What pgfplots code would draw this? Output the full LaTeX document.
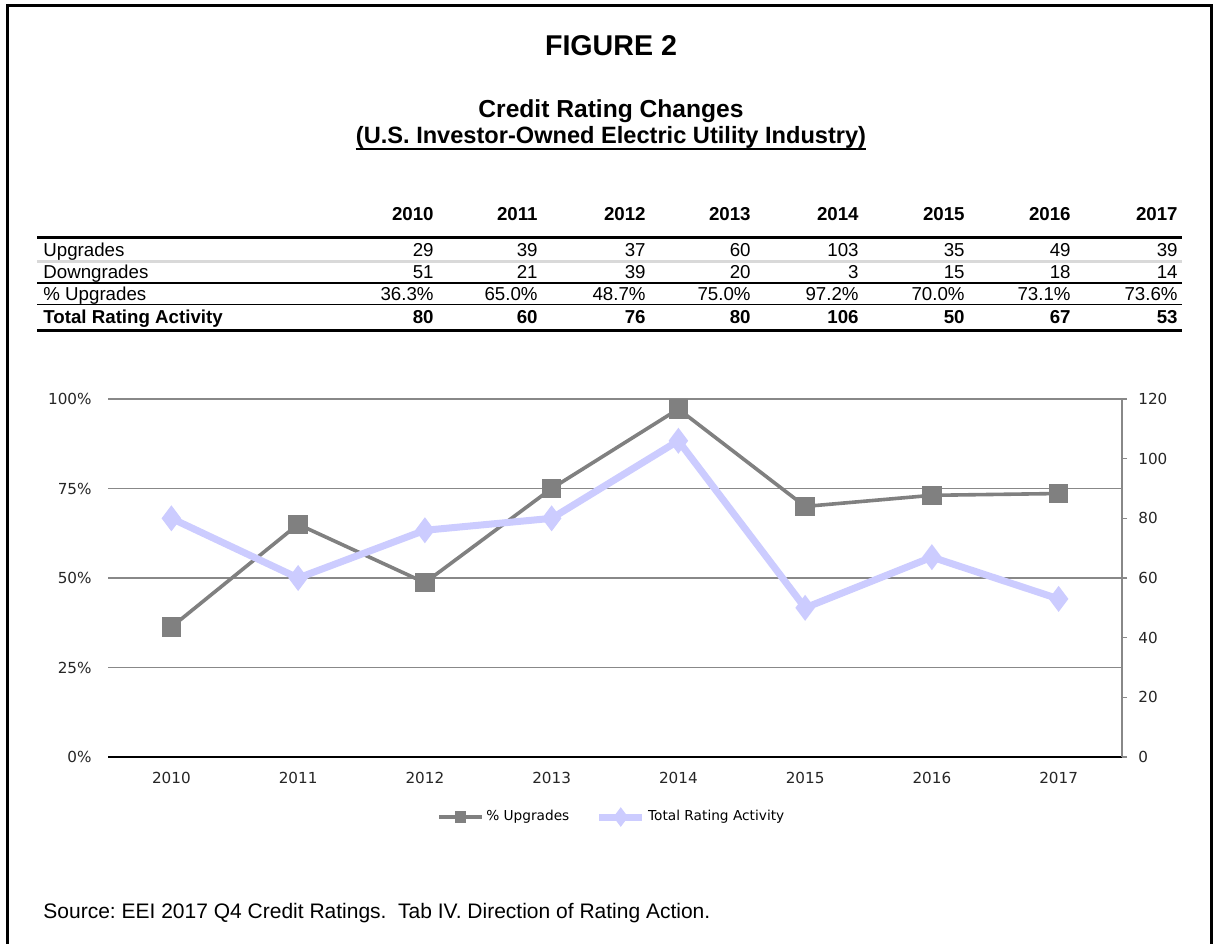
\documentclass[border=0pt]{standalone}
\usepackage{pgfplots}
\pgfplotsset{compat=1.18}
\usepackage{fontspec}
\setmainfont{Liberation Sans}
\newfontfamily\chartfont{DejaVu Sans}

\definecolor{upgr}{RGB}{128,128,128}
\definecolor{total}{RGB}{204,204,255}
\definecolor{gridgray}{RGB}{136,136,136}
\definecolor{rulegray}{RGB}{217,217,217}

\begin{document}
\frenchspacing
\begin{tikzpicture}[x=0.5pt,y=-0.5pt]
\useasboundingbox (0,0) rectangle (1213,943);
\fill[white] (0,0) rectangle (1213,943);
% frame (bottom edge falls outside the page)
\draw[line width=1.5pt] (7.5,960) -- (7.5,5.3) -- (1211.5,5.3) -- (1211.5,960);

% titles
\node[font=\fontsize{14.3}{16}\selectfont\bfseries, anchor=base, inner sep=0pt] at (611,55) {FIGURE 2};
\node[font=\fontsize{12.3}{15}\selectfont\bfseries, anchor=base, inner sep=0pt] at (611,117) {Credit Rating Changes};
\node[font=\fontsize{11.8}{15}\selectfont\bfseries, anchor=base, inner sep=0pt] (sub) at (611,143) {(U.S. Investor-Owned Electric Utility Industry)};
\draw[line width=1pt] ([yshift=-3pt]sub.base west) -- ([yshift=-3pt]sub.base east);

% table
\begin{scope}[every node/.style={inner sep=0pt, font=\fontsize{9.35}{11}\selectfont}]
\draw[line width=1.5pt] (37,237.5) -- (1182,237.5);
\draw[line width=1.5pt, rulegray] (37,261.5) -- (1182,261.5);
\draw[line width=1.25pt] (37,283) -- (1182,283);
\draw[line width=0.75pt] (37,304.5) -- (1182,304.5);
\draw[line width=1.5pt] (37,330.5) -- (1182,330.5);
\node[anchor=base west] at (43,256) {Upgrades};
\node[anchor=base west] at (43,278) {Downgrades};
\node[anchor=base west] at (43,300) {\% Upgrades};
\node[anchor=base west, font=\fontsize{9.35}{11}\selectfont\bfseries] at (43,323) {Total Rating Activity};
\foreach \x/\yr/\u/\d/\p/\t in {434/2010/29/51/36.3/80, 538/2011/39/21/65.0/60,
  646/2012/37/39/48.7/76, 751/2013/60/20/75.0/80, 859/2014/103/3/97.2/106,
  965/2015/35/15/70.0/50, 1071/2016/49/18/73.1/67, 1178/2017/39/14/73.6/53}{
  \node[anchor=base east, font=\fontsize{9.35}{11}\selectfont\bfseries] at (\x,220) {\yr};
  \node[anchor=base east] at (\x,256) {\u};
  \node[anchor=base east] at (\x,278) {\d};
  \node[anchor=base east] at (\x,300) {\p\%};
  \node[anchor=base east, font=\fontsize{9.35}{11}\selectfont\bfseries] at (\x,323) {\t};
}
\end{scope}

% chart: percent of upgrades on the left axis
\begin{axis}[
  at={(54pt,-378.5pt)}, anchor=south west,
  scale only axis, width=507pt, height=179pt,
  xmin=-0.5, xmax=7.5, ymin=0, ymax=100,
  xtick={0,...,7}, xticklabels={2010,2011,2012,2013,2014,2015,2016,2017},
  ytick={0,25,50,75,100},
  yticklabel={\pgfmathprintnumber{\tick}\%},
  /pgf/number format/assume math mode=true,
  axis x line*=bottom, axis y line*=left,
  x axis line style={-, black, line width=0.75pt},
  y axis line style={draw=none},
  xtick style={draw=none}, ytick style={draw=none},
  ymajorgrids, grid style={gridgray, line width=0.75pt},
  ticklabel style={font=\chartfont\fontsize{7.6}{9}\selectfont, text=black!85},
  xticklabel style={inner sep=0pt, yshift=-7.5pt},
  yticklabel style={inner sep=0pt, xshift=-8pt},
  clip=false,
]
\addplot[upgr, line width=1.8pt, mark=square*, mark size=4pt] coordinates {
  (0,36.3) (1,65.0) (2,48.7) (3,75.0) (4,97.2) (5,70.0) (6,73.1) (7,73.6)};
\end{axis}

% chart: total rating activity on the right axis
\begin{axis}[
  at={(54pt,-378.5pt)}, anchor=south west,
  scale only axis, width=507pt, height=179pt,
  xmin=-0.5, xmax=7.5, ymin=0, ymax=120,
  xtick=\empty, ytick={0,20,...,120},
  /pgf/number format/assume math mode=true,
  axis x line=none, axis y line*=right,
  y axis line style={-, gridgray, line width=0.75pt},
  tick align=outside, major tick length=2.5pt,
  ytick style={gridgray, line width=0.75pt},
  ticklabel style={font=\chartfont\fontsize{7.6}{9}\selectfont, text=black!85},
  yticklabel style={inner sep=0pt, xshift=5.5pt},
  clip=false,
  legend columns=2,
  legend style={at={(0.497,-0.1676)}, anchor=center, draw=none, fill=none,
    font=\chartfont\fontsize{6.85}{8}\selectfont,
    nodes={inner sep=1.2pt},
    /tikz/every even column/.append style={column sep=12pt}},
  legend image code/.code={\draw[mark size=2pt, mark repeat=2, mark phase=2]
    plot coordinates {(0pt,0pt) (10.75pt,0pt) (21.5pt,0pt)};},
]
\addlegendimage{upgr, line width=1.8pt, mark=square*}
\addlegendentry{\% Upgrades}
\addplot[total, line width=3.5pt, mark=diamond*, mark size=3.6pt] coordinates {
  (0,80) (1,60) (2,76) (3,80) (4,106) (5,50) (6,67) (7,53)};
\addlegendentry{Total Rating Activity}
\end{axis}

% source note
\node[font=\fontsize{10.5}{12}\selectfont, anchor=base west, inner sep=0pt] at (43,918)
  {Source: EEI 2017 Q4 Credit Ratings.\ \ Tab IV. Direction of Rating Action.};
\end{tikzpicture}
\end{document}
